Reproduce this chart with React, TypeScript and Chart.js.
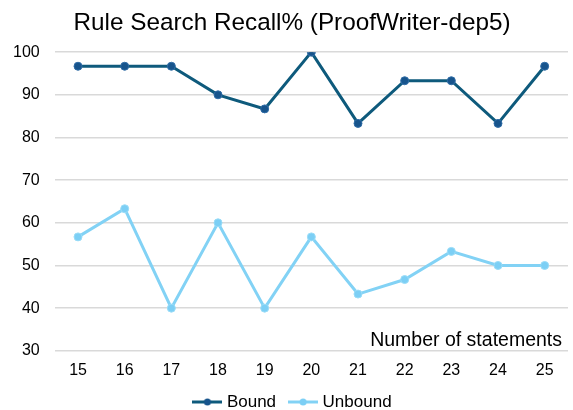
import React, { useEffect, useRef } from "react";
import { Chart, registerables } from "chart.js";

Chart.register(...registerables);

const categories = ["15", "16", "17", "18", "19", "20", "21", "22", "23", "24", "25"];
const boundValues = [96.7, 96.7, 96.7, 90, 86.7, 100, 83.3, 93.3, 93.3, 83.3, 96.7];
const unboundValues = [56.7, 63.3, 40, 60, 40, 56.7, 43.3, 46.7, 53.3, 50, 50];
const yTicks = [30, 40, 50, 60, 70, 80, 90, 100];

const FONT = "'Liberation Sans', Arial, sans-serif";
const BOUND_COLOR = "#0e5a7c";
const BOUND_POINT = "#17548c";
const UNBOUND_COLOR = "#82d2f5";
const UNBOUND_POINT = "#7ccff5";

function legendIcon(line: string, dot: string): HTMLCanvasElement {
  const c = document.createElement("canvas");
  c.width = 30;
  c.height = 10;
  const ctx = c.getContext("2d")!;
  ctx.strokeStyle = line;
  ctx.lineWidth = 3;
  ctx.beginPath();
  ctx.moveTo(0, 5);
  ctx.lineTo(30, 5);
  ctx.stroke();
  ctx.fillStyle = dot;
  ctx.beginPath();
  ctx.arc(15, 5, 3.5, 0, Math.PI * 2);
  ctx.fill();
  return c;
}

const layoutTweakPlugin = {
  id: "layoutTweak",
  afterLayout(chart: any) {
    if (chart.legend) {
      chart.legend.top -= 12.5;
      chart.legend.bottom -= 12.5;
      chart.legend.left += 11;
      chart.legend.right += 11;
    }
    if (chart.titleBlock) {
      chart.titleBlock.left += 9;
      chart.titleBlock.right += 9;
      chart.titleBlock.top += 1;
      chart.titleBlock.bottom += 1;
    }
  },
  afterDraw(chart: any) {
    const { ctx, chartArea } = chart;
    ctx.save();
    ctx.font = `19.5px ${FONT}`;
    ctx.fillStyle = "#000";
    ctx.textAlign = "right";
    ctx.textBaseline = "alphabetic";
    ctx.fillText("Number of statements", chartArea.right - 6, chartArea.bottom - 5);
    ctx.restore();
  },
};

export default function App() {
  const ref = useRef<HTMLCanvasElement | null>(null);
  useEffect(() => {
    if (!ref.current) return;
    const icons = [legendIcon(BOUND_COLOR, BOUND_POINT), legendIcon(UNBOUND_COLOR, UNBOUND_POINT)];
    const chart = new Chart(ref.current, {
      type: "line",
      data: {
        labels: categories,
        datasets: [
          {
            label: "Bound",
            data: boundValues,
            borderColor: BOUND_COLOR,
            backgroundColor: BOUND_POINT,
            pointBackgroundColor: BOUND_POINT,
            pointBorderColor: "#2f6ca6",
            pointBorderWidth: 1,
            borderWidth: 3,
            pointRadius: 4,
            tension: 0,
          },
          {
            label: "Unbound",
            data: unboundValues,
            borderColor: UNBOUND_COLOR,
            backgroundColor: UNBOUND_POINT,
            pointBackgroundColor: UNBOUND_POINT,
            pointBorderColor: "#9adcf7",
            pointBorderWidth: 1,
            borderWidth: 3,
            pointRadius: 4,
            tension: 0,
          },
        ],
      },
      options: {
        animation: false,
        responsive: true,
        maintainAspectRatio: false,
        layout: { padding: { left: -2, right: 5, top: 8, bottom: -23 } },
        plugins: {
          title: {
            display: true,
            text: "Rule Search Recall% (ProofWriter-dep5)",
            color: "#000",
            font: { family: FONT, size: 24.3, weight: "normal" },
            padding: { top: 0, bottom: 15 },
          },
          legend: {
            position: "bottom",
            labels: {
              color: "#000",
              font: { family: FONT, size: 17 },
              usePointStyle: true,
              pointStyleWidth: 22,
              boxHeight: 10,
              padding: 16,
              generateLabels: (ch: any) =>
                ch.data.datasets.map((ds: any, i: number) => ({
                  text: ds.label,
                  pointStyle: icons[i],
                  fillStyle: ds.borderColor,
                  strokeStyle: ds.borderColor,
                  lineWidth: 0,
                  hidden: false,
                  datasetIndex: i,
                  fontColor: "#000",
                })),
            },
          },
          tooltip: { enabled: false },
        },
        scales: {
          x: {
            offset: true,
            grid: { display: false, drawTicks: false },
            border: { display: false },
            ticks: {
              color: "#000",
              font: { family: FONT, size: 16 },
              padding: 10,
            },
          },
          y: {
            min: 30,
            max: 100,
            afterBuildTicks: (axis: any) => {
              axis.ticks = yTicks.map((v) => ({ value: v }));
            },
            grid: { color: "#d9d9d9", lineWidth: 1.5, drawTicks: false },
            border: { display: false },
            ticks: {
              color: "#000",
              font: { family: FONT, size: 16 },
              padding: 15,
            },
          },
        },
      },
      plugins: [layoutTweakPlugin],
    });
    return () => chart.destroy();
  }, []);
  return (
    <div style={{ position: "fixed", left: 0, top: 0, width: 573, height: 410 }}>
      <canvas ref={ref} />
    </div>
  );
}
